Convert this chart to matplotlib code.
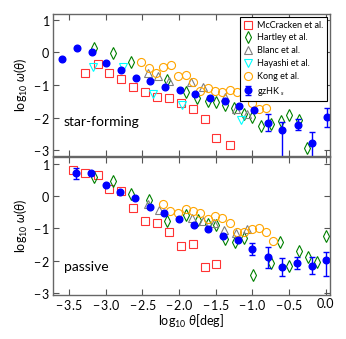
import matplotlib
matplotlib.use("Agg")
import matplotlib.pyplot as plt
import numpy as np

plt.rcParams['font.family'] = ['Lato', 'DejaVu Sans']
plt.rcParams['mathtext.fontset'] = 'custom'
plt.rcParams['mathtext.rm'] = 'Lato'
plt.rcParams['mathtext.it'] = 'Lato:italic'

# ---------------- top panel (star-forming) ----------------
sf_mcc_x = [-3.28, -3.11, -2.95, -2.79, -2.63, -2.46, -2.30, -2.14, -1.97, -1.81, -1.65, -1.50, -1.31]
sf_mcc_y = [-0.64, -0.35, -0.63, -0.80, -1.05, -1.20, -1.35, -1.39, -1.55, -1.74, -2.04, -2.63, -2.84]

sf_har_x = [-3.16, -2.90, -2.65, -2.16, -1.91, -1.75, -1.61, -1.50, -1.37, -1.25, -1.12, -1.00,
            -0.88, -0.74, -0.61, -0.50, -0.37, -0.25]
sf_har_y = [0.15, -0.03, -0.29, -0.84, -1.20, -1.40, -1.50, -1.51, -1.60, -1.71, -1.89, -1.99,
            -2.24, -2.19, -2.11, -1.93, -2.06, -2.93]

sf_bla_x = [-2.43, -2.29, -2.14, -1.84, -1.68, -1.38, -1.23, -1.08]
sf_bla_y = [-0.63, -0.71, -0.88, -0.92, -1.05, -1.37, -1.73, -1.89]

sf_hay_x = [-3.17, -2.77, -2.36, -1.96, -1.16]
sf_hay_y = [-0.46, -0.45, -1.26, -1.60, -2.06]

sf_kon_x = [-2.52, -2.41, -2.32, -2.22, -2.11, -2.02, -1.91, -1.81, -1.71, -1.61, -1.51, -1.41,
            -1.31, -1.21, -1.11, -1.01, -0.91, -0.81]
sf_kon_y = [-0.28, -0.49, -0.63, -0.46, -0.37, -0.72, -0.68, -0.90, -1.17, -1.08, -1.19, -1.20,
            -1.14, -1.20, -1.35, -1.56, -1.73, -1.71]

sf_gz_x = [-3.59, -3.39, -3.19, -2.99, -2.79, -2.59, -2.39, -2.19, -1.99, -1.78, -1.58, -1.38,
           -1.18, -0.98, -0.78, -0.59, -0.38, -0.18, 0.02]
sf_gz_y = [-0.20, 0.15, 0.00, -0.31, -0.53, -0.79, -0.86, -1.07, -1.14, -1.28, -1.39, -1.49,
           -1.65, -1.77, -2.16, -2.37, -2.21, -2.78, -1.99]
sf_gz_elo = [0, 0, 0, 0, 0, 0, 0, 0, 0, 0, 0, 0, 0, 0, 0.26, 1.2, 0.18, 0.6, 0.28]
sf_gz_ehi = [0, 0, 0, 0, 0, 0, 0, 0, 0, 0, 0, 0, 0, 0, 0.26, 0.24, 0.18, 0.33, 0.28]

# ---------------- bottom panel (passive) ----------------
pa_mcc_x = [-3.445, -3.28, -3.11, -2.95, -2.79, -2.63, -2.46, -2.30, -2.14, -1.97, -1.81, -1.65, -1.50]
pa_mcc_y = [0.82, 0.70, 0.64, 0.21, 0.16, -0.38, -0.77, -0.84, -1.10, -1.54, -1.47, -2.21, -2.10]

pa_har_x = [-3.16, -2.90, -2.66, -2.41, -2.16, -1.91, -1.74, -1.61, -1.50, -1.37, -1.24, -1.12,
            -0.99, -0.75, -0.62, -0.50, -0.37, -0.24, -0.12, 0.01]
pa_har_y = [0.59, 0.47, 0.05, -0.12, -0.77, -0.58, -0.74, -0.87, -0.89, -1.33, -1.41, -1.30,
            -2.44, -2.07, -1.41, -2.15, -1.69, -1.90, -2.03, -1.23]

pa_bla_x = [-2.43, -2.28, -1.83, -1.68, -1.53, -1.39, -1.23, -1.08]
pa_bla_y = [-0.26, -0.43, -0.69, -0.76, -0.84, -1.05, -1.15, -1.02]

pa_kon_x = [-2.22, -2.12, -2.02, -1.91, -1.81, -1.71, -1.61, -1.51, -1.41, -1.31, -1.21, -1.11,
            -1.01, -0.91, -0.81, -0.72]
pa_kon_y = [-0.25, -0.45, -0.51, -0.40, -0.45, -0.51, -0.71, -0.62, -0.67, -0.84, -1.10, -1.10,
            -1.02, -1.00, -1.10, -1.38]

pa_gz_x = [-3.40, -3.20, -2.995, -2.80, -2.60, -2.40, -2.20, -2.00, -1.80, -1.60, -1.40, -1.20,
           -1.00, -0.79, -0.60, -0.39, -0.19, 0.01]
pa_gz_y = [0.70, 0.70, 0.34, 0.13, -0.07, -0.33, -0.51, -0.70, -0.91, -1.03, -1.24, -1.36,
           -1.64, -1.90, -2.19, -2.08, -2.15, -1.97]
pa_gz_elo = [0.16, 0, 0, 0, 0, 0, 0, 0, 0, 0, 0, 0, 0.18, 0.33, 0.27, 0.19, 0.26, 0.51]
pa_gz_ehi = [0.16, 0, 0, 0, 0, 0, 0, 0, 0, 0, 0, 0, 0.18, 0.33, 0.27, 0.19, 0.26, 0.25]

xticks = [-3.5, -3.0, -2.5, -2.0, -1.5, -1.0, -0.5, 0.0]
yticks = [1, 0, -1, -2, -3]

fig = plt.figure(figsize=(3.46, 3.39), dpi=100)
L, R = 0.153, 0.954
ax1 = fig.add_axes([L, 0.540, R - L, 0.959 - 0.540])
ax2 = fig.add_axes([L, 0.130, R - L, 0.538 - 0.130])

msz = 5.8
def draw(ax, mx, my, hx, hy, bx, by, kx, ky, gx, gy, elo, ehi, yx=None, yy=None):
    ax.plot(mx, my, 's', mfc='none', mec='red', mew=0.8, ms=msz, label='McCracken et al.', alpha=0.8)
    ax.plot(hx, hy, 'd', mfc='none', mec='green', mew=0.8, ms=msz, label='Hartley et al.')
    ax.plot(bx, by, '^', mfc='none', mec='gray', mew=0.8, ms=msz, label='Blanc et al.')
    if yx is not None:
        ax.plot(yx, yy, 'v', mfc='none', mec='cyan', mew=0.8, ms=msz, label='Hayashi et al.')
    else:
        ax.plot([], [], 'v', mfc='none', mec='cyan', mew=0.8, ms=msz, label='Hayashi et al.')
    ax.plot(kx, ky, 'o', mfc='none', mec='orange', mew=0.8, ms=msz, label='Kong et al.')
    ax.errorbar(gx, gy, yerr=[elo, ehi], fmt='o', color='blue', mec='blue', ms=4.8,
                elinewidth=1.0, capsize=2, ecolor='blue', label=r'gzHK $_s$')

draw(ax1, sf_mcc_x, sf_mcc_y, sf_har_x, sf_har_y, sf_bla_x, sf_bla_y, sf_kon_x, sf_kon_y,
     sf_gz_x, sf_gz_y, sf_gz_elo, sf_gz_ehi, sf_hay_x, sf_hay_y)
draw(ax2, pa_mcc_x, pa_mcc_y, pa_har_x, pa_har_y, pa_bla_x, pa_bla_y, pa_kon_x, pa_kon_y,
     pa_gz_x, pa_gz_y, pa_gz_elo, pa_gz_ehi)

ax1.set_ylim(-3.17, 1.18)
ax2.set_ylim(-3.06, 1.22)
for ax in (ax1, ax2):
    ax.set_xlim(-3.72, 0.06)
    ax.set_xticks(xticks)
    ax.set_yticks(yticks)
    ax.set_yticklabels([r'$1$' if t == 1 else (r'$0$' if t == 0 else r'$-\,%d$' % (-t)) for t in yticks])
    ax.tick_params(direction='in', top=True, right=True, labelsize=9, length=4,
                   color='#555555', width=0.8, pad=2)
    for s in ax.spines.values():
        s.set_color('#666666')
        s.set_linewidth(1.0)
    ax.set_ylabel(r'$\log_{10}\,\omega(\theta)$', fontsize=9, labelpad=2)

ax1.tick_params(labelbottom=False)
ax2.set_xticklabels([r'$-\,%.1f$' % (-t) if t < 0 else '0.0' for t in xticks])
ax2.set_xlabel(r'$\log_{10}\,\theta[\mathrm{deg}]$', fontsize=9, labelpad=1)

ax1.text(0.04, 0.24, 'star-forming', transform=ax1.transAxes, fontsize=10, va='center')
ax2.text(0.04, 0.20, 'passive', transform=ax2.transAxes, fontsize=10, va='center')

leg = ax1.legend(loc='upper right', fontsize=6.5, numpoints=1, handlelength=1.0,
                 handletextpad=0.5, borderpad=0.4, labelspacing=0.42, fancybox=False,
                 borderaxespad=0.35, framealpha=1)
leg.get_frame().set_edgecolor('black')
leg.get_frame().set_linewidth(0.8)

fig.savefig('out.png', dpi=100)
